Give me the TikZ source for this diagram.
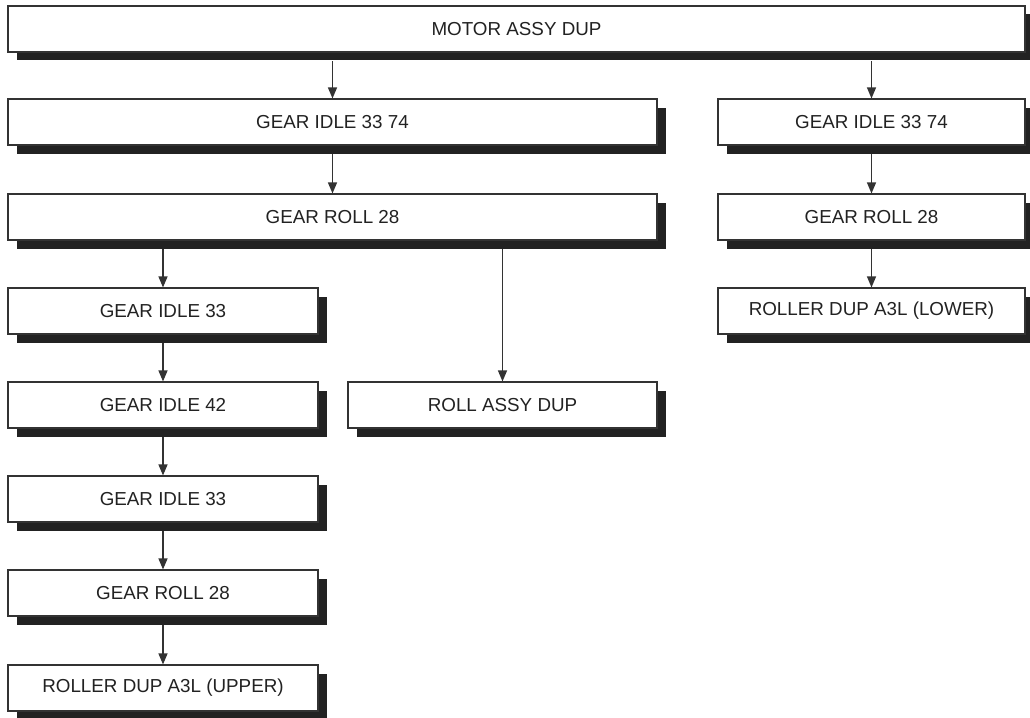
\documentclass[tikz,border=0pt]{standalone}
\usepackage{fontspec}
\setmainfont{Liberation Sans}
\usetikzlibrary{arrows.meta,shadows}
\definecolor{shade}{HTML}{222222}
\definecolor{edge}{HTML}{333333}
\tikzset{
  box/.style={draw=edge, line width=1.1pt, fill=white, inner sep=0pt,
    minimum height=46pt, font=\fontsize{18.8}{22}\selectfont, text=shade,
    drop shadow={shadow xshift=8.5pt, shadow yshift=-8.5pt, fill=shade, opacity=1}},
  conn/.style={draw=edge, line width=1.2pt, -{Triangle[length=11pt,width=9pt]}}
}
\begin{document}
\begin{tikzpicture}[x=1pt,y=-1pt]
\useasboundingbox (0,0) rectangle (1030,717);
\node[box, minimum width=1017pt] (motor) at (516.5,29) {MOTOR ASSY DUP};
\node[box, minimum width=649pt] (gi1) at (332.5,122) {GEAR IDLE 33 74};
\node[box, minimum width=649pt] (gr1) at (332.5,217) {GEAR ROLL 28};
\node[box, minimum width=307pt] (gi2) at (871.5,122) {GEAR IDLE 33 74};
\node[box, minimum width=307pt] (gr2) at (871.5,217) {GEAR ROLL 28};
\node[box, minimum width=307pt] (rl) at (871.5,311) {ROLLER DUP A3L (LOWER)};
\node[box, minimum width=310pt] (l1) at (163,311) {GEAR IDLE 33};
\node[box, minimum width=310pt] (l2) at (163,405) {GEAR IDLE 42};
\node[box, minimum width=309pt] (ra) at (502.5,405) {ROLL ASSY DUP};
\node[box, minimum width=310pt] (l3) at (163,499) {GEAR IDLE 33};
\node[box, minimum width=310pt] (l4) at (163,593) {GEAR ROLL 28};
\node[box, minimum width=310pt] (l5) at (163,688) {ROLLER DUP A3L (UPPER)};
% connectors start below the shadow
\draw[conn] ([yshift=-8.5pt]motor.south -| gi1) -- (gi1.north);
\draw[conn] ([yshift=-8.5pt]motor.south -| gi2) -- (gi2.north);
\draw[conn] ([yshift=-8.5pt]gi1.south) -- (gr1.north);
\draw[conn] ([yshift=-8.5pt]gr1.south -| l1) -- (l1.north);
\draw[conn] ([yshift=-8.5pt]gr1.south -| ra) -- (ra.north);
\draw[conn] ([yshift=-8.5pt]gi2.south) -- (gr2.north);
\draw[conn] ([yshift=-8.5pt]gr2.south) -- (rl.north);
\draw[conn] ([yshift=-8.5pt]l1.south) -- (l2.north);
\draw[conn] ([yshift=-8.5pt]l2.south) -- (l3.north);
\draw[conn] ([yshift=-8.5pt]l3.south) -- (l4.north);
\draw[conn] ([yshift=-8.5pt]l4.south) -- (l5.north);
\end{tikzpicture}
\end{document}
